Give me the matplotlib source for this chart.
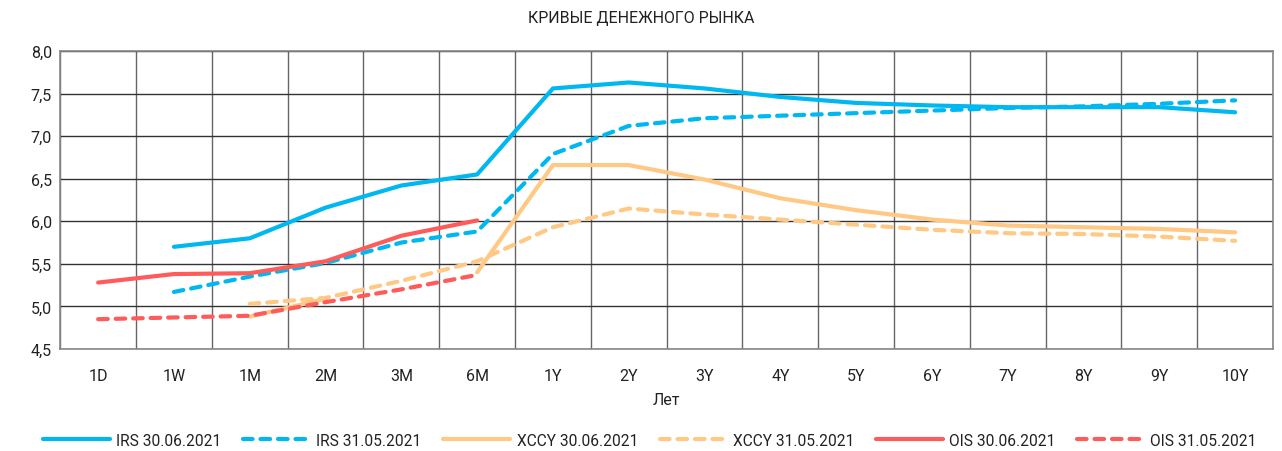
import matplotlib
matplotlib.use("Agg")
import matplotlib.pyplot as plt
import numpy as np

tenors = ["1D", "1W", "1M", "2M", "3M", "6M", "1Y", "2Y", "3Y", "4Y",
          "5Y", "6Y", "7Y", "8Y", "9Y", "10Y"]
nan = np.nan

irs_jun = [nan, 5.70, 5.80, 6.16, 6.42, 6.55, 7.56, 7.63, 7.56, 7.46,
           7.39, 7.36, 7.34, 7.34, 7.34, 7.28]
irs_may = [nan, 5.17, 5.35, 5.51, 5.75, 5.88, 6.79, 7.12, 7.21, 7.24,
           7.27, 7.30, 7.33, 7.35, 7.38, 7.42]
xccy_jun = [nan, nan, 4.88, 5.09, nan, 5.40, 6.66, 6.66, 6.49, 6.27,
            6.13, 6.02, 5.95, 5.93, 5.91, 5.87]
xccy_may = [nan, nan, 5.03, 5.10, 5.30, 5.53, 5.93, 6.15, 6.08, 6.02,
            5.96, 5.90, 5.86, 5.85, 5.82, 5.77]
ois_jun = [5.28, 5.38, 5.39, 5.53, 5.83, 6.01] + [nan] * 10
ois_may = [4.85, 4.87, 4.89, 5.05, 5.20, 5.37] + [nan] * 10

BLUE = "#00B8F1"
ORANGE = "#FFC985"
RED = "#FF5B5B"

series = [
    ("IRS 30.06.2021", irs_jun, BLUE, "-"),
    ("IRS 31.05.2021", irs_may, BLUE, "--"),
    ("XCCY 30.06.2021", xccy_jun, ORANGE, "-"),
    ("XCCY 31.05.2021", xccy_may, ORANGE, "--"),
    ("OIS 30.06.2021", ois_jun, RED, "-"),
    ("OIS 31.05.2021", ois_may, RED, "--"),
]

plt.rcParams["font.family"] = ["Roboto", "DejaVu Sans"]
TXT = "#222222"

fig = plt.figure(figsize=(12.82, 4.52), dpi=100)
ax = fig.add_axes([0.047, 0.2257, 0.946, 0.6593])

x = np.arange(len(tenors))
for label, vals, color, ls in series:
    line, = ax.plot(x, vals, color=color, lw=3, label=label,
                    solid_capstyle="round", dash_capstyle="round")
    if ls == "--":
        line.set_dashes((2.3, 1.9))

ax.set_xlim(-0.5, len(tenors) - 0.5)
ax.set_ylim(4.5, 8.0)
yt = np.arange(4.5, 8.01, 0.5)
ax.set_yticks(yt)
ax.set_yticklabels([f"{v:.1f}".replace(".", ",") for v in yt])
ax.set_xticks(x)
ax.set_xticklabels(tenors)
ax.set_xticks(np.arange(-0.5, len(tenors)), minor=True)
ax.tick_params(which="both", length=0, labelsize=11.5, colors=TXT)
ax.tick_params(axis="x", pad=14)
ax.tick_params(axis="y", pad=6)
ax.grid(True, axis="y", which="major", color="#333333", lw=1)
ax.grid(True, axis="x", which="minor", color="#666666", lw=1)
ax.set_axisbelow(True)
for s in ax.spines.values():
    s.set_color("#888888")
    s.set_linewidth(1.2)

ax.set_xlabel("Лет", fontsize=11.5, color=TXT, labelpad=6)
fig.text(0.5, 0.96, "КРИВЫЕ ДЕНЕЖНОГО РЫНКА", ha="center", va="center",
         fontsize=11.5, color=TXT)

fig.legend(loc="center", bbox_to_anchor=(0.507, 0.024), ncol=6, frameon=False,
           fontsize=11.2, handlelength=4.3, handletextpad=0.4,
           columnspacing=1.4, labelcolor=TXT)

fig.savefig("out.png", dpi=100)
